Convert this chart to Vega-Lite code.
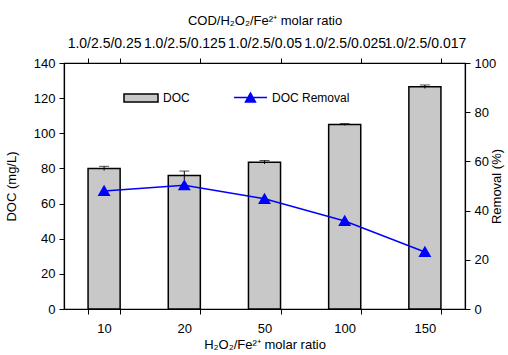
{
  "$schema": "https://vega.github.io/schema/vega-lite/v6.json",
  "width": 401,
  "height": 246,
  "autosize": {"type": "none"},
  "padding": {"left": 64, "top": 63, "right": 43, "bottom": 46},
  "background": "white",
  "config": {
    "view": {"stroke": "black", "strokeWidth": 1.2},
    "font": "Liberation Sans",
    "axis": {"labelFont": "Liberation Sans", "titleFont": "Liberation Sans", "labelFontSize": 13, "titleFontSize": 13, "titleFontWeight": "normal", "labelColor": "black", "titleColor": "black", "domainColor": "black", "tickColor": "black", "grid": false, "domainWidth": 1.2, "tickWidth": 1, "labelOverlap": false},
    "legend": {"labelFont": "Liberation Sans", "labelFontSize": 12, "labelColor": "black"}
  },
  "data": {
    "values": [
      {"ratio": "10", "cod": "1.0/2.5/0.25", "doc": 80, "err": 1.2, "removal": 48},
      {"ratio": "20", "cod": "1.0/2.5/0.125", "doc": 76, "err": 2.5, "removal": 50.3},
      {"ratio": "50", "cod": "1.0/2.5/0.05", "doc": 83.5, "err": 1, "removal": 44.8},
      {"ratio": "100", "cod": "1.0/2.5/0.025", "doc": 105, "err": 0.5, "removal": 35.8},
      {"ratio": "150", "cod": "1.0/2.5/0.017", "doc": 126.5, "err": 1, "removal": 23.2}
    ]
  },
  "resolve": {"scale": {"y": "independent"}, "axis": {"x": "independent"}},
  "layer": [
    {
      "layer": [
        {
          "mark": {"type": "bar", "stroke": "black", "strokeWidth": 1.5},
          "encoding": {
            "x": {"field": "ratio", "type": "nominal", "sort": ["10", "20", "50", "100", "150"],
              "scale": {"paddingInner": 0.6, "paddingOuter": 0.3},
              "axis": {"orient": "bottom", "title": "H₂O₂/Fe²⁺ molar ratio", "labelAngle": 0, "tickBand": "extent", "tickSize": 5, "labelPadding": 8, "titlePadding": 3}},
            "y": {"field": "doc", "type": "quantitative", "scale": {"domain": [0, 140]},
              "axis": {"title": "DOC (mg/L)", "values": [0, 20, 40, 60, 80, 100, 120, 140], "tickSize": 5, "labelPadding": 4, "titlePadding": 15, "labelOverlap": false}},
            "fill": {"datum": "DOC", "scale": {"range": ["#c8c8c8"]},
              "legend": {"title": null, "orient": "none", "legendX": 59, "legendY": 17, "symbolType": "M-1,-0.24H1V0.24H-1Z", "symbolSize": 1156, "symbolStrokeColor": "black", "symbolStrokeWidth": 1.5, "labelOffset": 4}}
          }
        },
        {
          "mark": {"type": "rule", "color": "black", "strokeWidth": 1},
          "encoding": {
            "x": {"field": "ratio", "type": "nominal", "sort": ["10", "20", "50", "100", "150"]},
            "y": {"field": "lo", "type": "quantitative",
              "axis": {"title": "DOC (mg/L)", "values": [0, 20, 40, 60, 80, 100, 120, 140], "tickSize": 5, "labelPadding": 4, "titlePadding": 15, "labelOverlap": false}},
            "y2": {"field": "hi"}
          },
          "transform": [{"calculate": "datum.doc - datum.err", "as": "lo"}, {"calculate": "datum.doc + datum.err", "as": "hi"}]
        },
        {
          "mark": {"type": "tick", "color": "black", "thickness": 1, "size": 10},
          "encoding": {
            "x": {"field": "ratio", "type": "nominal", "sort": ["10", "20", "50", "100", "150"]},
            "y": {"field": "hi", "type": "quantitative",
              "axis": {"title": "DOC (mg/L)", "values": [0, 20, 40, 60, 80, 100, 120, 140], "tickSize": 5, "labelPadding": 4, "titlePadding": 15, "labelOverlap": false}}
          },
          "transform": [{"calculate": "datum.doc + datum.err", "as": "hi"}]
        }
      ]
    },
    {
      "mark": {"type": "line", "strokeWidth": 1.5, "point": {"shape": "triangle-up", "size": 90, "filled": true, "color": "#0000ff"}},
      "encoding": {
        "x": {"field": "ratio", "type": "nominal", "sort": ["10", "20", "50", "100", "150"],
          "axis": {"orient": "top", "title": "COD/H₂O₂/Fe²⁺ molar ratio", "labelAngle": 0, "labelFontSize": 14, "tickBand": "extent", "tickSize": 5, "labelPadding": 8, "titlePadding": 9,
            "labelExpr": "{'10':'1.0/2.5/0.25','20':'1.0/2.5/0.125','50':'1.0/2.5/0.05','100':'1.0/2.5/0.025','150':'1.0/2.5/0.017'}[datum.label]"}},
        "y": {"field": "removal", "type": "quantitative", "scale": {"domain": [0, 100]},
          "axis": {"orient": "right", "title": "Removal (%)", "values": [0, 20, 40, 60, 80, 100], "tickSize": 5, "labelPadding": 4, "titleAngle": 270, "titlePadding": 8, "labelOverlap": false}},
        "stroke": {"datum": "DOC Removal", "scale": {"range": ["#0000ff"]},
          "legend": {"title": null, "orient": "none", "legendX": 169, "legendY": 17, "symbolType": "M-1,0H1M-0.3,0.27L0,-0.27L0.3,0.27Z", "symbolSize": 1089, "symbolFillColor": "#0000ff", "symbolStrokeWidth": 1.5, "labelOffset": 4}}
      }
    }
  ]
}
